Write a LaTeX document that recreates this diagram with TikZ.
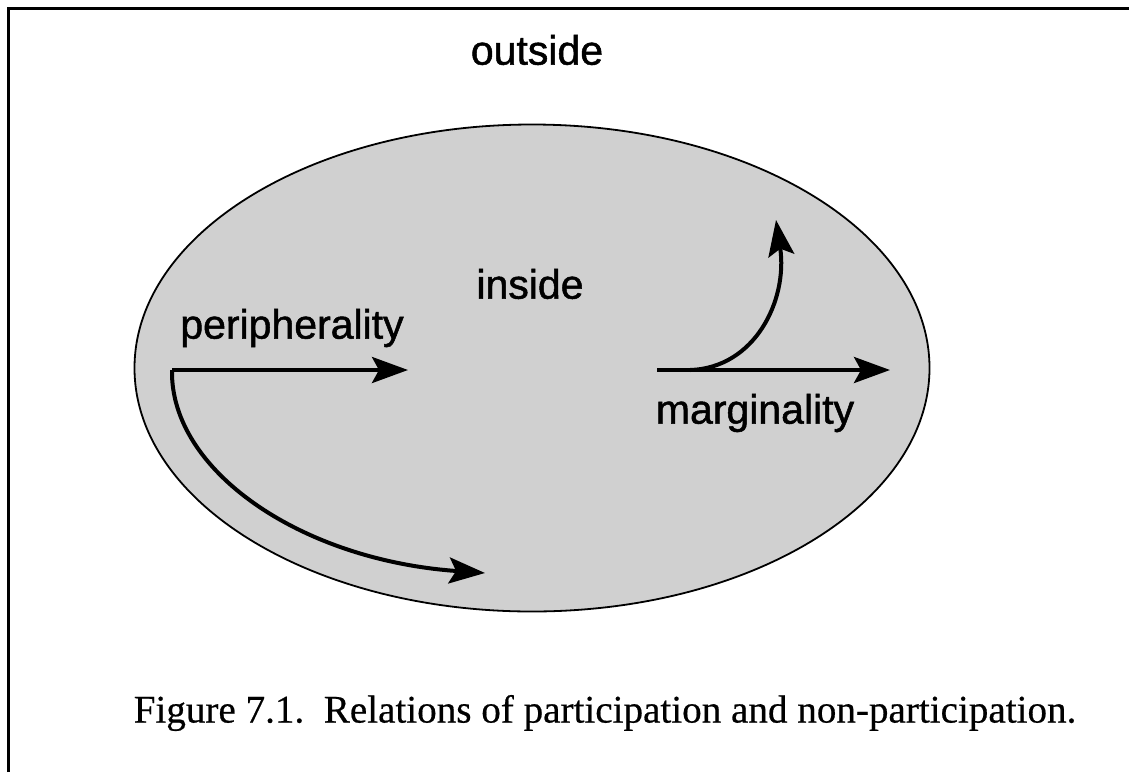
\documentclass[tikz,border=0pt]{standalone}
\usepackage{fontspec}
\setmainfont{Liberation Serif}
\newfontfamily\labelfont[FakeBold=1.2]{Liberation Sans}
\newfontfamily\captionfont[FakeBold=0.5]{Liberation Serif}
\usetikzlibrary{shapes.geometric,arrows.meta}
\definecolor{fieldgray}{RGB}{208,208,208}
\begin{document}
\begin{tikzpicture}[x=1pt,y=-1pt,
  lab/.style={font=\labelfont\fontsize{41}{44}\selectfont, inner sep=0pt},
  arr/.style={line width=4pt, -{Stealth[length=36pt,width=26pt,inset=7pt]}}]
\useasboundingbox (0,0) rectangle (1129,772);
\draw[line width=3pt] (8,772) -- (8,8) -- (1129,8);
\node[ellipse, draw, line width=1.8pt, fill=fieldgray, minimum width=795pt, minimum height=487pt, inner sep=0pt] (field) at (532,368) {};
\node[lab] (outside) at (537,50) {outside};
\node[lab] (inside) at (530,284) {inside};
\node[lab] (periph) at (292,328) {peripherality};
\node[lab] (margin) at (755,413) {marginality};
\node[inner sep=0pt, font=\captionfont\fontsize{39.1}{42}\selectfont] (caption) at (605,713) {Figure 7.1.\ \ Relations of participation and non-participation.};
\coordinate (pstart) at (172,370);
\coordinate (pend1) at (408,370);
\coordinate (pend2) at (485,573);
\coordinate (mstart) at (657,370);
\coordinate (mend1) at (890,370);
\coordinate (mfork) at (690,370);
\coordinate (mend2) at (776,220);
\draw[arr] (pstart) -- (pend1);
\draw[arr] (pstart) .. controls (170,470) and (300,560) .. (pend2);
\draw[arr] (mstart) -- (mend1);
\draw[arr] (mfork) .. controls (755,368) and (788,300) .. (mend2);
\end{tikzpicture}
\end{document}
